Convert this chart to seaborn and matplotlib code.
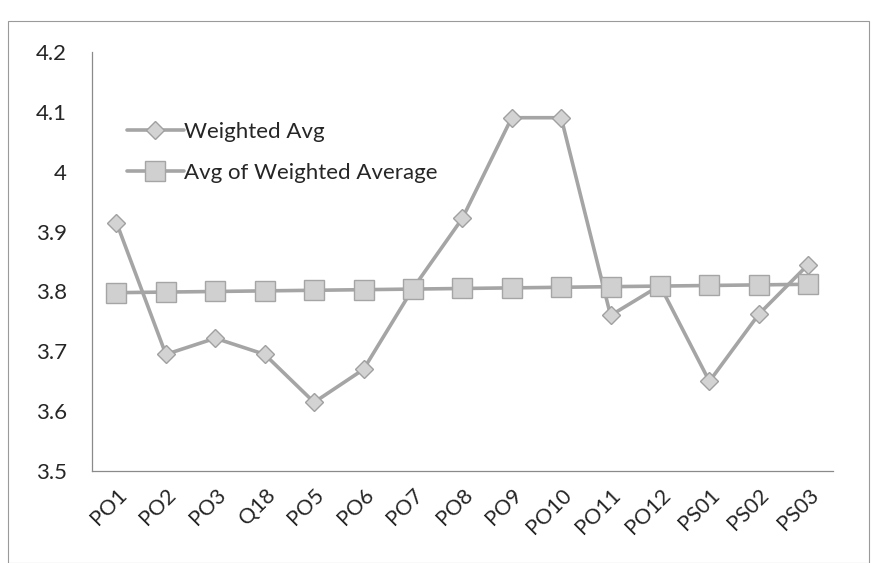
import pandas as pd
import numpy as np
import matplotlib
matplotlib.use("Agg")
import matplotlib.pyplot as plt
import seaborn as sns
from matplotlib.patches import Rectangle

# values
outcomes = ["PO1", "PO2", "PO3", "Q18", "PO5", "PO6", "PO7", "PO8",
            "PO9", "PO10", "PO11", "PO12", "PS01", "PS02", "PS03"]
weighted_avg = [3.915, 3.695, 3.722, 3.695, 3.615, 3.67, 3.805, 3.922,
                4.09, 4.09, 3.76, 3.81, 3.65, 3.762, 3.845]
avg_of_weighted = [3.798, 3.799, 3.800, 3.801, 3.802, 3.803, 3.804, 3.805,
                   3.806, 3.807, 3.808, 3.809, 3.810, 3.811, 3.812]
y_ticks = [3.5, 3.6, 3.7, 3.8, 3.9, 4, 4.1, 4.2]
y_labels = ["3.5", "3.6", "3.7", "3.8", "3.9", "4", "4.1", "4.2"]

df = pd.DataFrame({"Outcome": outcomes,
                   "Weighted Avg": weighted_avg,
                   "Avg of Weighted Average": avg_of_weighted})
df["x"] = range(len(outcomes))

sns.set_style("white")
plt.rcParams["font.family"] = ["Lato", "DejaVu Sans"]

fig = plt.figure(figsize=(8.74, 5.63), dpi=100)
ax = fig.add_axes([0.105, 0.163, 0.848, 0.745])

# light frame around the whole chart
fig.patches.append(Rectangle((0.009, 0.0), 0.985, 0.962, transform=fig.transFigure,
                             fill=False, edgecolor="#9a9a9a", linewidth=0.8))

sns.lineplot(data=df, x="x", y="Weighted Avg", ax=ax, color="#a5a5a5",
             linewidth=2.6, marker="D", markersize=9, markerfacecolor="#d3d3d3",
             markeredgecolor="#a0a0a0", markeredgewidth=1.0, label="Weighted Avg")
sns.lineplot(data=df, x="x", y="Avg of Weighted Average", ax=ax, color="#a5a5a5",
             linewidth=2.6, marker="s", markersize=14, markerfacecolor="#d0d0d0",
             markeredgecolor="#a5a5a5", markeredgewidth=1.0,
             label="Avg of Weighted Average")

ax.set_xlim(-0.5, len(outcomes) - 0.5)
ax.set_ylim(3.5, 4.2)
ax.set_yticks(y_ticks)
ax.set_yticklabels(y_labels, fontsize=16)
ax.set_xticks(np.arange(-0.5, len(outcomes), 1), minor=False)
ax.set_xticklabels([])
ax.set_xticks(range(len(outcomes)), minor=True)
ax.set_xticklabels(outcomes, minor=True, rotation=45, ha="right",
                   rotation_mode="anchor", fontsize=15.5)
ax.tick_params(axis="x", which="minor", length=0, pad=10)
ax.tick_params(axis="x", which="major", length=6, color="#8a8a8a", direction="out")
ax.tick_params(axis="y", length=6, color="#8a8a8a", direction="out", pad=12)
ax.set_xlabel("")
ax.set_ylabel("")

for side in ["top", "right"]:
    ax.spines[side].set_visible(False)
for side in ["left", "bottom"]:
    ax.spines[side].set_color("#8a8a8a")
    ax.spines[side].set_linewidth(0.9)

ax.legend(loc="upper left", bbox_to_anchor=(0.02, 0.88), frameon=False,
          fontsize=16, labelspacing=0.95, handlelength=2.6, handletextpad=0.0)

fig.savefig("out.png", dpi=100)
